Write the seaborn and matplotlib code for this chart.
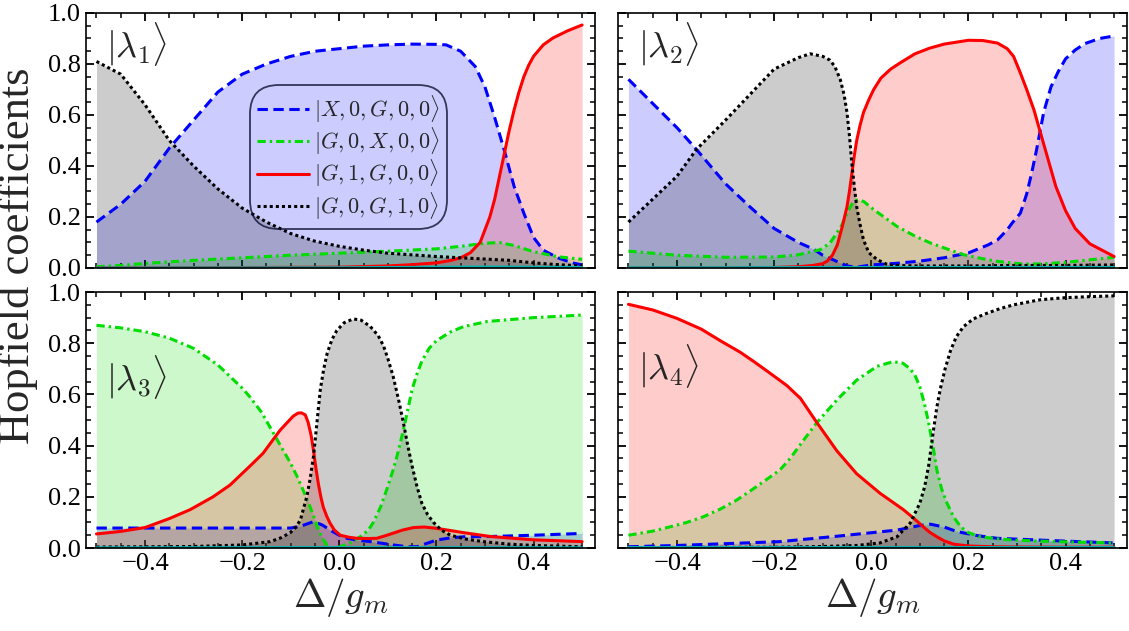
import seaborn as sns
import matplotlib.pyplot as plt
from matplotlib.lines import Line2D
from matplotlib.ticker import MultipleLocator

# ---- data: Hopfield coefficients vs Delta/g_m ----
# panel |lambda_1>
l1_xg_x = [-0.5, -0.45, -0.4, -0.35, -0.3, -0.25, -0.2, -0.15, -0.1, -0.05, 0.0, 0.05, 0.1, 0.15, 0.2,
           0.22, 0.25, 0.28, 0.3, 0.32, 0.34, 0.36, 0.38, 0.4, 0.42, 0.45, 0.48, 0.5]
l1_xg_y = [0.18, 0.25, 0.34, 0.47, 0.58, 0.69, 0.76, 0.80, 0.83, 0.85, 0.86, 0.87, 0.875, 0.878, 0.877,
           0.875, 0.85, 0.79, 0.71, 0.59, 0.46, 0.32, 0.215, 0.12, 0.07, 0.04, 0.02, 0.012]
l1_gx_x = [-0.5, -0.45, -0.4, -0.3, -0.2, -0.1, 0.0, 0.1, 0.2, 0.25, 0.3, 0.33, 0.36, 0.4, 0.45, 0.5]
l1_gx_y = [0.005, 0.01, 0.018, 0.03, 0.04, 0.05, 0.058, 0.066, 0.075, 0.085, 0.097, 0.1, 0.088, 0.064, 0.044, 0.034]
l1_g1_x = [-0.5, 0.0, 0.1, 0.15, 0.2, 0.23, 0.25, 0.27, 0.29, 0.3, 0.31, 0.32, 0.33, 0.34, 0.35, 0.36,
           0.37, 0.38, 0.39, 0.4, 0.42, 0.44, 0.47, 0.5]
l1_g1_y = [0.0, 0.003, 0.008, 0.013, 0.02, 0.03, 0.04, 0.06, 0.1, 0.15, 0.2, 0.27, 0.36, 0.45, 0.54, 0.62,
           0.69, 0.75, 0.795, 0.83, 0.875, 0.902, 0.93, 0.953]
l1_gg_x = [-0.5, -0.45, -0.4, -0.35, -0.3, -0.25, -0.2, -0.15, -0.1, -0.05, 0.0, 0.05, 0.1, 0.2, 0.3, 0.35,
           0.4, 0.45, 0.5]
l1_gg_y = [0.81, 0.76, 0.64, 0.50, 0.40, 0.31, 0.235, 0.18, 0.135, 0.105, 0.085, 0.07, 0.058, 0.045, 0.035,
           0.03, 0.02, 0.013, 0.008]
l1_c_x = [-0.5, 0.0, 0.3, 0.5]
l1_c_y = [0.002, 0.003, 0.006, 0.004]

# panel |lambda_2>
l2_xg_x = [-0.5, -0.45, -0.4, -0.36, -0.3, -0.25, -0.2, -0.15, -0.12, -0.1, -0.07, -0.05, -0.03, 0.0, 0.05,
           0.1, 0.15, 0.2, 0.24, 0.26, 0.28, 0.29, 0.307, 0.32, 0.33, 0.34, 0.35, 0.355, 0.37, 0.385, 0.4,
           0.42, 0.44, 0.47, 0.5]
l2_xg_y = [0.74, 0.645, 0.55, 0.465, 0.33, 0.24, 0.155, 0.10, 0.075, 0.05, 0.025, 0.008, 0.003, 0.012, 0.018,
           0.027, 0.04, 0.059, 0.09, 0.11, 0.15, 0.176, 0.215, 0.29, 0.37, 0.46, 0.56, 0.61, 0.71, 0.77, 0.82,
           0.855, 0.88, 0.9, 0.91]
l2_gx_x = [-0.5, -0.4, -0.3, -0.2, -0.15, -0.105, -0.085, -0.071, -0.06, -0.05, -0.04, -0.033, -0.026,
           -0.015, 0.005, 0.03, 0.053, 0.09, 0.122, 0.16, 0.19, 0.23, 0.26, 0.31, 0.35, 0.4, 0.45, 0.5]
l2_gx_y = [0.066, 0.05, 0.042, 0.043, 0.052, 0.072, 0.098, 0.137, 0.17, 0.215, 0.25, 0.265, 0.268, 0.26,
           0.229, 0.195, 0.163, 0.125, 0.098, 0.072, 0.052, 0.036, 0.026, 0.016, 0.016, 0.022, 0.032, 0.042]
l2_g1_x = [-0.5, -0.2, -0.15, -0.12, -0.1, -0.09, -0.08, -0.07, -0.06, -0.05, -0.045, -0.04, -0.035, -0.03,
           -0.023, -0.016, -0.005, 0.005, 0.02, 0.04, 0.06, 0.09, 0.12, 0.15, 0.2, 0.23, 0.26, 0.28, 0.293,
           0.307, 0.32, 0.335, 0.35, 0.365, 0.38, 0.4, 0.42, 0.45, 0.5]
l2_g1_y = [0.0, 0.002, 0.005, 0.01, 0.017, 0.028, 0.05, 0.09, 0.16, 0.24, 0.3, 0.37, 0.44, 0.50, 0.56, 0.61,
           0.66, 0.70, 0.745, 0.78, 0.805, 0.84, 0.862, 0.878, 0.893, 0.892, 0.882, 0.86, 0.83, 0.765, 0.70,
           0.62, 0.52, 0.42, 0.32, 0.225, 0.155, 0.095, 0.045]
l2_gg_x = [-0.5, -0.45, -0.4, -0.36, -0.3, -0.25, -0.2, -0.15, -0.126, -0.1, -0.085, -0.075, -0.064, -0.056,
           -0.05, -0.045, -0.04, -0.035, -0.03, -0.023, -0.016, -0.005, 0.012, 0.03, 0.045, 0.1, 0.2, 0.3,
           0.4, 0.5]
l2_gg_y = [0.18, 0.27, 0.36, 0.465, 0.58, 0.68, 0.78, 0.825, 0.84, 0.83, 0.815, 0.79, 0.74, 0.68, 0.61,
           0.52, 0.41, 0.32, 0.24, 0.17, 0.11, 0.06, 0.033, 0.016, 0.01, 0.008, 0.008, 0.01, 0.01, 0.012]
l2_c_x = [-0.5, 0.0, 0.5]
l2_c_y = [0.003, 0.004, 0.004]

# panel |lambda_3>
l3_xg_x = [-0.5, -0.3, -0.2, -0.1, -0.08, -0.053, -0.035, -0.019, 0.0, 0.016, 0.04, 0.064, 0.09, 0.111,
           0.14, 0.16, 0.18, 0.2, 0.23, 0.256, 0.311, 0.4, 0.5]
l3_xg_y = [0.078, 0.078, 0.078, 0.078, 0.085, 0.103, 0.09, 0.07, 0.05, 0.038, 0.03, 0.025, 0.018, 0.012,
           0.005, 0.005, 0.018, 0.031, 0.04, 0.044, 0.045, 0.05, 0.057]
l3_gx_x = [-0.5, -0.45, -0.4, -0.35, -0.3, -0.25, -0.225, -0.2, -0.184, -0.16, -0.136, -0.115, -0.1, -0.087,
           -0.073, -0.06, -0.05, -0.043, -0.035, -0.026, -0.015, 0.0, 0.02, 0.043, 0.06, 0.07, 0.085, 0.098,
           0.11, 0.119, 0.132, 0.15, 0.16, 0.17, 0.185, 0.2, 0.23, 0.256, 0.305, 0.4, 0.5]
l3_gx_y = [0.87, 0.86, 0.845, 0.82, 0.78, 0.715, 0.67, 0.625, 0.59, 0.53, 0.45, 0.38, 0.33, 0.28, 0.22,
           0.16, 0.11, 0.07, 0.04, 0.012, 0.002, 0.004, 0.018, 0.044, 0.07, 0.1, 0.16, 0.23, 0.30, 0.36, 0.46,
           0.62, 0.68, 0.73, 0.78, 0.81, 0.845, 0.865, 0.885, 0.9, 0.91]
l3_g1_x = [-0.5, -0.45, -0.4, -0.35, -0.307, -0.26, -0.225, -0.184, -0.157, -0.122, -0.095, -0.085, -0.078,
           -0.07, -0.064, -0.058, -0.053, -0.048, -0.043, -0.038, -0.033, -0.026, -0.019, -0.01, 0.002, 0.02,
           0.036, 0.06, 0.077, 0.095, 0.111, 0.13, 0.153, 0.175, 0.2, 0.256, 0.311, 0.4, 0.5]
l3_g1_y = [0.055, 0.065, 0.08, 0.115, 0.15, 0.2, 0.246, 0.32, 0.37, 0.46, 0.515, 0.527, 0.528, 0.52, 0.49,
           0.44, 0.38, 0.31, 0.25, 0.2, 0.16, 0.125, 0.097, 0.07, 0.05, 0.042, 0.038, 0.037, 0.038, 0.048,
           0.058, 0.07, 0.08, 0.082, 0.077, 0.06, 0.045, 0.032, 0.025]
l3_gg_x = [-0.5, -0.3, -0.2, -0.142, -0.12, -0.101, -0.09, -0.08, -0.067, -0.06, -0.053, -0.046, -0.039,
           -0.032, -0.025, -0.015, -0.005, 0.01, 0.029, 0.045, 0.064, 0.08, 0.091, 0.1, 0.111, 0.122, 0.132,
           0.141, 0.15, 0.16, 0.17, 0.182, 0.194, 0.21, 0.229, 0.26, 0.297, 0.35, 0.4, 0.5]
l3_gg_y = [0.004, 0.006, 0.012, 0.025, 0.04, 0.06, 0.08, 0.11, 0.2, 0.27, 0.36, 0.49, 0.62, 0.70, 0.76,
           0.815, 0.85, 0.88, 0.895, 0.89, 0.865, 0.83, 0.79, 0.74, 0.67, 0.58, 0.49, 0.40, 0.32, 0.24, 0.175,
           0.13, 0.1, 0.07, 0.05, 0.035, 0.025, 0.015, 0.01, 0.005]
l3_c_x = [-0.5, 0.0, 0.5]
l3_c_y = [0.003, 0.004, 0.003]

# panel |lambda_4>
l4_xg_x = [-0.5, -0.4, -0.3, -0.188, -0.071, 0.053, 0.1, 0.122, 0.15, 0.177, 0.22, 0.259, 0.348, 0.4, 0.5]
l4_xg_y = [0.005, 0.01, 0.017, 0.025, 0.046, 0.07, 0.088, 0.093, 0.082, 0.064, 0.048, 0.038, 0.031, 0.027, 0.02]
l4_gx_x = [-0.5, -0.45, -0.414, -0.38, -0.346, -0.31, -0.277, -0.24, -0.208, -0.188, -0.167, -0.14, -0.112,
           -0.071, -0.03, 0.012, 0.045, 0.065, 0.08, 0.09, 0.1, 0.11, 0.118, 0.127, 0.135, 0.145, 0.156,
           0.17, 0.184, 0.2, 0.225, 0.26, 0.293, 0.345, 0.4, 0.5]
l4_gx_y = [0.05, 0.066, 0.083, 0.1, 0.122, 0.153, 0.1875, 0.235, 0.278, 0.305, 0.35, 0.42, 0.49, 0.578,
           0.656, 0.71, 0.728, 0.722, 0.70, 0.675, 0.63, 0.56, 0.49, 0.4, 0.305, 0.23, 0.175, 0.12, 0.083,
           0.06, 0.044, 0.036, 0.031, 0.027, 0.024, 0.02]
l4_g1_x = [-0.5, -0.45, -0.4, -0.35, -0.311, -0.27, -0.243, -0.21, -0.174, -0.146, -0.112, -0.071, -0.03,
           0.018, 0.066, 0.087, 0.107, 0.12, 0.135, 0.15, 0.17, 0.2, 0.25, 0.3, 0.4, 0.5]
l4_g1_y = [0.952, 0.93, 0.897, 0.855, 0.81, 0.765, 0.73, 0.685, 0.635, 0.585, 0.49, 0.38, 0.29, 0.214,
           0.15, 0.117, 0.083, 0.062, 0.044, 0.028, 0.015, 0.008, 0.005, 0.004, 0.003, 0.003]
l4_gg_x = [-0.5, -0.2, -0.1, -0.03, 0.018, 0.053, 0.08, 0.1, 0.11, 0.118, 0.128, 0.135, 0.142, 0.152, 0.163,
           0.175, 0.19, 0.21, 0.238, 0.265, 0.293, 0.348, 0.4, 0.45, 0.5]
l4_gg_y = [0.002, 0.003, 0.006, 0.01, 0.02, 0.044, 0.097, 0.175, 0.24, 0.32, 0.46, 0.55, 0.62, 0.70, 0.77,
           0.825, 0.865, 0.895, 0.917, 0.935, 0.95, 0.97, 0.978, 0.982, 0.985]
l4_c_x = [-0.5, 0.0, 0.5]
l4_c_y = [0.003, 0.003, 0.003]

state_labels = [r'$|X,0,G,0,0\rangle$', r'$|G,0,X,0,0\rangle$',
                r'$|G,1,G,0,0\rangle$', r'$|G,0,G,1,0\rangle$']
panel_names = [r'$|\lambda_1\rangle$', r'$|\lambda_2\rangle$',
               r'$|\lambda_3\rangle$', r'$|\lambda_4\rangle$']

colors = ['#0000ff', '#00dd00', '#ff0000', '#000000', '#00b4b4']
dashes = [(3.4, 1.8), (2.7, 1.3, 0.8, 1.3), None, (1.0, 1.0), None]
LW = 2.2

panels = [
    [(l1_xg_x, l1_xg_y), (l1_gx_x, l1_gx_y), (l1_g1_x, l1_g1_y), (l1_gg_x, l1_gg_y), (l1_c_x, l1_c_y)],
    [(l2_xg_x, l2_xg_y), (l2_gx_x, l2_gx_y), (l2_g1_x, l2_g1_y), (l2_gg_x, l2_gg_y), (l2_c_x, l2_c_y)],
    [(l3_xg_x, l3_xg_y), (l3_gx_x, l3_gx_y), (l3_g1_x, l3_g1_y), (l3_gg_x, l3_gg_y), (l3_c_x, l3_c_y)],
    [(l4_xg_x, l4_xg_y), (l4_gx_x, l4_gx_y), (l4_g1_x, l4_g1_y), (l4_gg_x, l4_gg_y), (l4_c_x, l4_c_y)],
]

sns.set_theme(style='ticks')
plt.rcParams['font.family'] = ['Liberation Serif', 'DejaVu Serif']
plt.rcParams['mathtext.fontset'] = 'cm'
plt.rcParams['axes.linewidth'] = 1.2

fig = plt.figure(figsize=(11.29, 6.31), dpi=100)
rects = [[0.0762, 0.5753, 0.451, 0.4041], [0.5474, 0.5753, 0.451, 0.4041],
         [0.0762, 0.1315, 0.451, 0.4057], [0.5474, 0.1315, 0.451, 0.4057]]
label_y = [0.88, 0.88, 0.668, 0.71]

for i, (rect, curves) in enumerate(zip(rects, panels)):
    ax = fig.add_axes(rect)
    for (xs, ys), c in zip(curves, colors):
        ax.fill_between(xs, 0, ys, color=c, alpha=0.2, linewidth=0)
    for (xs, ys), c, d in zip(curves, colors, dashes):
        sns.lineplot(x=xs, y=ys, ax=ax, color=c, sort=False, estimator=None)
        ln = ax.lines[-1]
        ln.set_linewidth(LW if c != '#00b4b4' else 1.4)
        if d is not None:
            ln.set_dashes(d)
            ln.set_dash_capstyle('butt')
    ax.set_xlim(-0.5215, 0.527)
    ax.set_ylim(0, 1)
    ax.xaxis.set_major_locator(MultipleLocator(0.2))
    ax.xaxis.set_minor_locator(MultipleLocator(0.05))
    ax.yaxis.set_major_locator(MultipleLocator(0.2))
    ax.yaxis.set_minor_locator(MultipleLocator(0.05))
    ax.tick_params(which='both', direction='in', top=True, right=True, colors='black', labelsize=19)
    ax.tick_params(which='major', length=6, width=1.3)
    ax.tick_params(which='minor', length=3.5, width=1.1)
    ax.xaxis.set_major_formatter(plt.FuncFormatter(lambda v, p: ('%.1f' % v).replace('-', '\u2212')))
    ax.yaxis.set_major_formatter(plt.FuncFormatter(lambda v, p: '%.1f' % v))
    if i < 2:
        ax.tick_params(labelbottom=False)
    else:
        ax.set_xlabel(r'$\Delta/g_m$', fontsize=28, labelpad=1)
    if i % 2 == 1:
        ax.tick_params(labelleft=False)
    ax.set_ylabel('')
    for s in ax.spines.values():
        s.set_color('black')
    ax.text(0.04, label_y[i], panel_names[i], transform=ax.transAxes, fontsize=26, va='center', ha='left')
    if i == 0:
        handles = []
        for c, d in zip(colors[:4], dashes[:4]):
            h = Line2D([], [], color=c, linewidth=LW)
            if d is not None:
                h.set_dashes(d)
                h.set_dash_capstyle('butt')
            handles.append(h)
        leg = ax.legend(handles, state_labels, loc='upper left', bbox_to_anchor=(0.33, 0.7),
                        fontsize=16, frameon=True, fancybox=True, handlelength=2.3,
                        handletextpad=0.25, labelspacing=0.02, borderpad=0.15, borderaxespad=0)
        fr = leg.get_frame()
        fr.set_facecolor('none')
        fr.set_edgecolor('#101030')
        fr.set_linewidth(1.3)
        fr.set_boxstyle('round,pad=0.18,rounding_size=1.3')

fig.text(0.016, 0.594, 'Hopfield coefficients', rotation=90, fontsize=32, va='center', ha='center')

fig.savefig('out.png', dpi=100)
